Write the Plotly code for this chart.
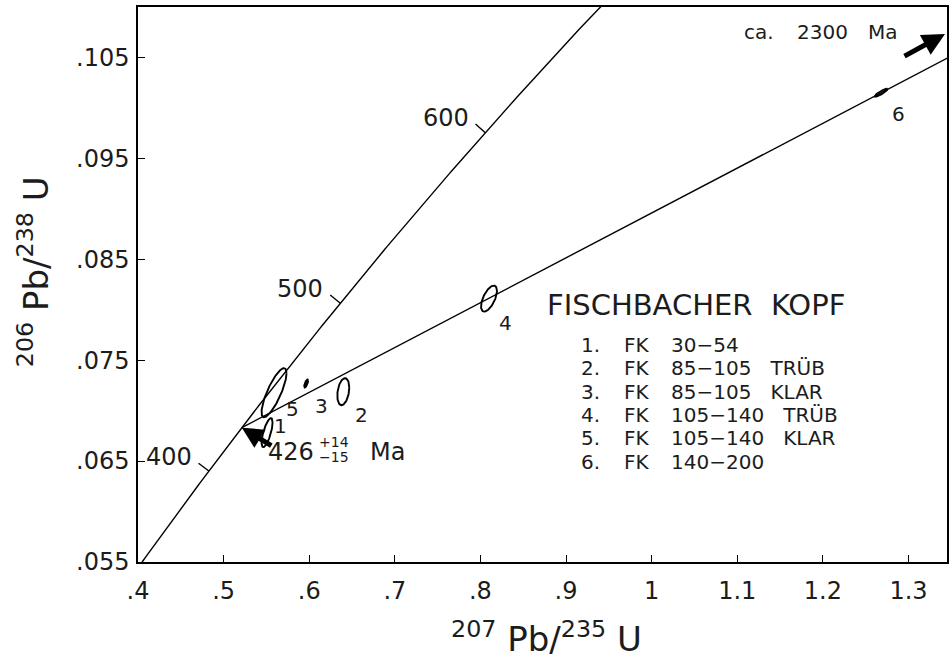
import numpy as np
import plotly.graph_objects as go

# ---------------- data ----------------
LAMBDA_238 = 1.55125e-10   # 1/yr
LAMBDA_235 = 9.8485e-10    # 1/yr

concordia_span_ma = [300, 720]
concordia_tick_ages = [400, 500, 600]
concordia_tick_labels = ["400", "500", "600"]

lower_intercept_ma = 426
upper_intercept_ma = 2300

fraction_ids = ["1", "2", "3", "4", "5", "6"]
ratio_207_235 = [0.5508, 0.6398, 0.5964, 0.810, 0.5589, 1.2679]
ratio_206_238 = [0.06782, 0.07188, 0.07269, 0.0811, 0.07178, 0.1015]
err_207_235 = [0.0064, 0.0070, 0.0023, 0.0093, 0.0146, 0.0076]
err_206_238 = [0.00144, 0.00134, 0.00040, 0.00129, 0.00243, 0.00040]
err_corr = [0.70, 0.30, 0.70, 0.60, 0.80, 0.90]

legend_nums = ["1.", "2.", "3.", "4.", "5.", "6."]
legend_codes = ["FK", "FK", "FK", "FK", "FK", "FK"]
legend_ranges = ["30−54", "85−105", "85−105", "105−140", "105−140", "140−200"]
legend_notes = ["", "TRÜB", "KLAR", "TRÜB", "KLAR", ""]

x_ticks = [0.4, 0.5, 0.6, 0.7, 0.8, 0.9, 1.0, 1.1, 1.2, 1.3]
x_tick_labels = [".4", ".5", ".6", ".7", ".8", ".9", "1", "1.1", "1.2", "1.3"]
y_ticks = [0.055, 0.065, 0.075, 0.085, 0.095, 0.105]
y_tick_labels = [".055", ".065", ".075", ".085", ".095", ".105"]

title_text = "FISCHBACHER\u00a0\u00a0KOPF"
age_text = "426"
age_plus = "+14"
age_minus = "−15"
upper_text = ["ca.", "2300", "Ma"]
x_title = "<sup>207</sup> Pb/<sup>235</sup> U"
y_title = "<sup>206</sup> Pb/<sup>238</sup> U"

# ---------------- layout constants ----------------
W, H = 952, 662
L, R, T, B = 138, 949, 7, 562
X_RANGE = [0.4, 1.345]
Y_RANGE = [0.055, 0.110]
KX = (R - L) / (X_RANGE[1] - X_RANGE[0])
KY = (B - T) / (Y_RANGE[1] - Y_RANGE[0])
FONT = "DejaVu Sans"
INK = "#1c1c1c"


def px(x):
    return (x - L) / (R - L)


def py(y):
    return (B - y) / (B - T)


def ratios(age_ma):
    t = np.asarray(age_ma, dtype=float) * 1e6
    return np.exp(LAMBDA_235 * t) - 1.0, np.exp(LAMBDA_238 * t) - 1.0


def text_ann(xpix, ypix, txt, size, anchor="left", **kw):
    d = dict(x=px(xpix), y=py(ypix), xref="paper", yref="paper", text=txt,
             showarrow=False, xanchor=anchor, yanchor="middle",
             font=dict(family=FONT, size=size, color=INK))
    d.update(kw)
    return d


fig = go.Figure()

# concordia
ages = np.linspace(concordia_span_ma[0], concordia_span_ma[1], 300)
cxs, cys = ratios(ages)
fig.add_trace(go.Scatter(x=cxs, y=cys, mode="lines",
                         line=dict(color="black", width=1.4), hoverinfo="skip"))

# discordia
dxs, dys = ratios([lower_intercept_ma, upper_intercept_ma])
fig.add_trace(go.Scatter(x=dxs, y=dys, mode="lines",
                         line=dict(color="black", width=1.4), hoverinfo="skip"))

annotations = []

# concordia age ticks
TICK_LEN = 13
for age, lab in zip(concordia_tick_ages, concordia_tick_labels):
    x0, y0 = ratios(age)
    t = age * 1e6
    dxdt = LAMBDA_235 * np.exp(LAMBDA_235 * t) * KX
    dydt = LAMBDA_238 * np.exp(LAMBDA_238 * t) * KY
    n = np.hypot(dxdt, dydt)
    ux, uy = dxdt / n, dydt / n
    ox, oy = -uy * TICK_LEN, ux * TICK_LEN
    x1, y1 = x0 + ox / KX, y0 + oy / KY
    fig.add_trace(go.Scatter(x=[x0, x1], y=[y0, y1], mode="lines",
                             line=dict(color="black", width=1.4), hoverinfo="skip"))
    annotations.append(dict(x=x1, y=y1, xref="x", yref="y", text=lab, showarrow=False,
                            xanchor="right", yanchor="middle", xshift=-5, yshift=6,
                            font=dict(family=FONT, size=24, color=INK)))

# error ellipses
tt = np.linspace(0, 2 * np.pi, 120)
for fid, cx, cy, sx, sy, rho in zip(fraction_ids, ratio_207_235, ratio_206_238,
                                    err_207_235, err_206_238, err_corr):
    ex = cx + sx * np.cos(tt)
    ey = cy + sy * (rho * np.cos(tt) + np.sqrt(1 - rho ** 2) * np.sin(tt))
    fill = "toself" if fid == "3" else None
    fig.add_trace(go.Scatter(x=ex, y=ey, mode="lines", fill=fill, fillcolor="black",
                             line=dict(color="black", width=1.9), hoverinfo="skip"))

label_shift = {"1": (13, 7), "2": (18, -23), "3": (15, -23),
               "4": (17, -24), "5": (18, -16), "6": (17, -21)}
for fid, cx, cy in zip(fraction_ids, ratio_207_235, ratio_206_238):
    xs, ys = label_shift[fid]
    annotations.append(dict(x=cx, y=cy, xref="x", yref="y", text=fid, showarrow=False,
                            xanchor="center", yanchor="middle", xshift=xs, yshift=ys,
                            font=dict(family=FONT, size=20, color=INK)))

# title & legend list
annotations.append(text_ann(546, 305, title_text, 29))
row_y = [345, 368.3, 391.7, 415, 438.3, 461.7]
GAP = "\u00a0" * 3
for i in range(6):
    third = legend_ranges[i] + (GAP + legend_notes[i] if legend_notes[i] else "")
    annotations.append(text_ann(580, row_y[i], legend_nums[i], 20))
    annotations.append(text_ann(623, row_y[i], legend_codes[i], 20))
    annotations.append(text_ann(670, row_y[i], third, 20))

# lower intercept age text
annotations += [
    text_ann(266, 452, age_text, 24),
    text_ann(317, 442, age_plus, 14),
    text_ann(317, 457, age_minus, 14),
    text_ann(369, 452, "Ma", 24),
]

# arrows
lx, ly = ratios(lower_intercept_ma)
annotations.append(dict(x=float(lx), y=float(ly), xref="x", yref="y", text="",
                        showarrow=True, ax=31, ay=19, arrowhead=2, arrowsize=0.85,
                        arrowwidth=5, arrowcolor="black", standoff=0))
annotations.append(dict(x=px(947), y=py(34), xref="paper", yref="paper", text="",
                        showarrow=True, ax=-42, ay=23, arrowhead=2, arrowsize=0.9,
                        arrowwidth=5, arrowcolor="black", standoff=0))

# upper intercept note
for xl, txt in zip((743, 797, 868), upper_text):
    annotations.append(text_ann(xl, 32, txt, 20))

# axis titles
annotations.append(text_ann(548, 637, x_title, 34, anchor="center"))
annotations.append(text_ann(33, 272, y_title, 34, anchor="center", textangle=-90))

axis_common = dict(showgrid=False, zeroline=False, showline=True, mirror=True,
                   linecolor="black", linewidth=1.5, ticks="inside", ticklen=7,
                   tickwidth=1.4, tickcolor="black",
                   tickfont=dict(family=FONT, size=24, color=INK))

fig.update_layout(
    width=W, height=H,
    margin=dict(l=L, r=W - R, t=T, b=H - B),
    paper_bgcolor="white", plot_bgcolor="white",
    showlegend=False,
    xaxis=dict(range=X_RANGE, tickvals=x_ticks, ticktext=x_tick_labels,
               ticklabelstandoff=6, **axis_common),
    yaxis=dict(range=Y_RANGE, tickvals=y_ticks, ticktext=y_tick_labels,
               ticklabelstandoff=2, **axis_common),
    annotations=annotations,
)

fig.write_html("out.html", config={"displayModeBar": False},
               post_script="document.body.style.margin='0';document.body.style.overflow='hidden';")
